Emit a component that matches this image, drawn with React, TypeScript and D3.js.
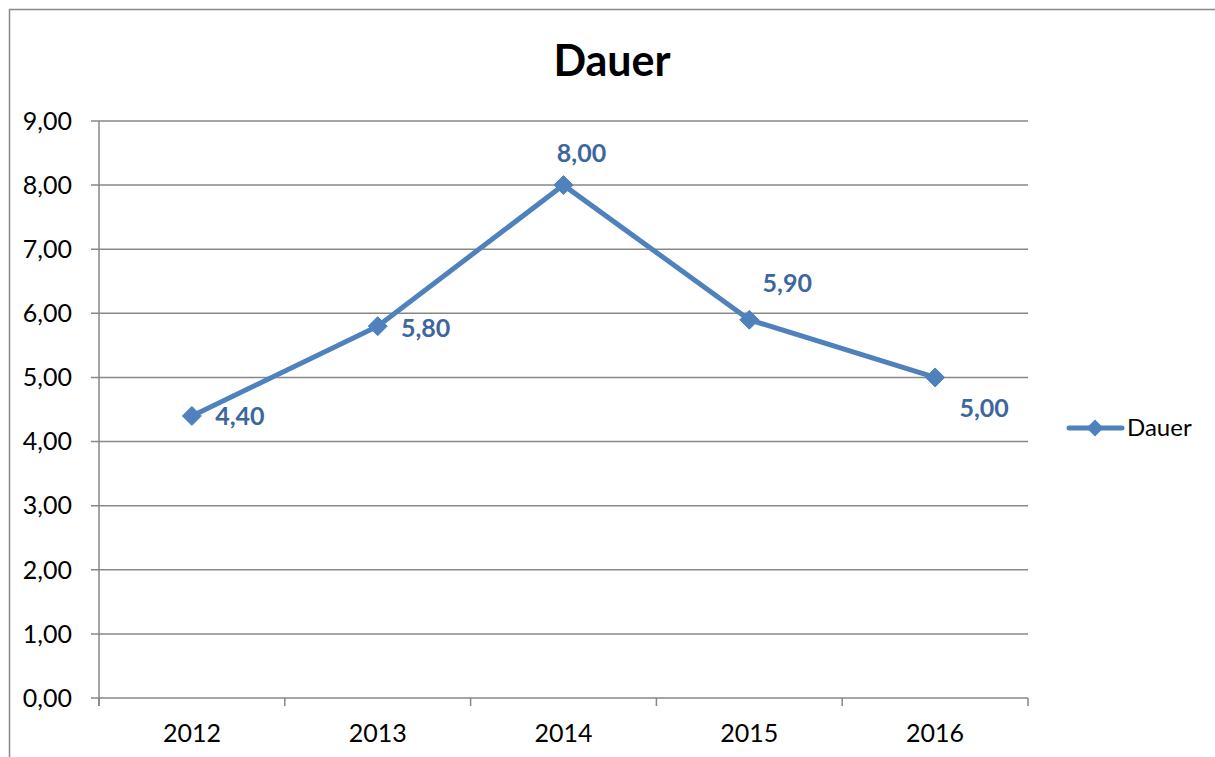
import React from "react";
import * as d3 from "d3";

const categories = ["2012", "2013", "2014", "2015", "2016"];
const values = [4.4, 5.8, 8.0, 5.9, 5.0];
const yTicks = [0, 1, 2, 3, 4, 5, 6, 7, 8, 9];
const seriesName = "Dauer";
const title = "Dauer";
// label offsets (dx, dy) relative to the point
const labelOffsets: [number, number][] = [
  [48, 0],
  [48, 2],
  [18, -32],
  [38, -36],
  [49, 31],
];

const W = 1215;
const H = 757;
const plot = { left: 99, right: 1028, top: 121, bottom: 698 };
const FONT = "Lato, 'Open Sans', sans-serif";
const LINE = "#4F81BD";
const LABEL = "#3C679C";
const GRID = "#878787";

const fmt = (v: number) => v.toFixed(2).replace(".", ",");

export default function App() {
  const x = d3
    .scaleBand<string>()
    .domain(categories)
    .range([plot.left, plot.right]);
  const y = d3.scaleLinear().domain([0, 9]).range([plot.bottom, plot.top]);
  const cx = (c: string) => (x(c) as number) + x.bandwidth() / 2;

  const line = d3
    .line<number>()
    .x((_, i) => cx(categories[i]))
    .y((d) => y(d));

  const diamond = (px: number, py: number, r: number) =>
    `M${px},${py - r}L${px + r},${py}L${px},${py + r}L${px - r},${py}Z`;

  const bandEdges = categories.map((c) => x(c) as number).concat([plot.right]);

  return (
    <svg
      width={W}
      height={H}
      style={{ position: "absolute", left: 0, top: 0, background: "#fff" }}
      fontFamily={FONT}
    >
      <rect x={0} y={0} width={W} height={H} fill="#fff" />
      {/* chart border */}
      <path d={`M9.5,${H}V9.5H${W}`} fill="none" stroke="#898989" strokeWidth={1.5} />
      <text x={612} y={76} textAnchor="middle" fontSize={43} fontWeight={700} fill="#000">
        {title}
      </text>
      {/* gridlines + y ticks */}
      {yTicks.map((t) => (
        <g key={t}>
          <line
            x1={plot.left - 8}
            x2={plot.right}
            y1={y(t)}
            y2={y(t)}
            stroke={GRID}
            strokeWidth={1.5}
          />
          <text
            x={72}
            y={y(t)}
            dy="0.35em"
            textAnchor="end"
            fontSize={25}
            fill="#000"
          >
            {fmt(t)}
          </text>
        </g>
      ))}
      {/* y axis */}
      <line x1={plot.left} x2={plot.left} y1={plot.top} y2={plot.bottom + 8} stroke={GRID} strokeWidth={1.5} />
      {/* x ticks */}
      {bandEdges.map((e, i) => (
        <line key={i} x1={e} x2={e} y1={plot.bottom} y2={plot.bottom + 8} stroke={GRID} strokeWidth={1.5} />
      ))}
      {categories.map((c) => (
        <text key={c} x={cx(c)} y={742} textAnchor="middle" fontSize={25} fill="#000">
          {c}
        </text>
      ))}
      {/* series */}
      <path d={line(values) || ""} fill="none" stroke={LINE} strokeWidth={5} strokeLinejoin="round" />
      {values.map((v, i) => (
        <path key={i} d={diamond(cx(categories[i]), y(v), 9.5)} fill={LINE} stroke={LINE} strokeWidth={1} />
      ))}
      {values.map((v, i) => (
        <text
          key={"l" + i}
          x={cx(categories[i]) + labelOffsets[i][0]}
          y={y(v) + labelOffsets[i][1]}
          dy="0.35em"
          textAnchor="middle"
          fontSize={25}
          fontWeight={700}
          fill={LABEL}
        >
          {fmt(v)}
        </text>
      ))}
      {/* legend */}
      <line x1={1069} x2={1122} y1={428} y2={428} stroke={LINE} strokeWidth={5} strokeLinecap="round" />
      <path d={diamond(1095, 428, 8.5)} fill={LINE} />
      <text x={1127} y={428} dy="0.35em" fontSize={24} fill="#000">
        {seriesName}
      </text>
    </svg>
  );
}
